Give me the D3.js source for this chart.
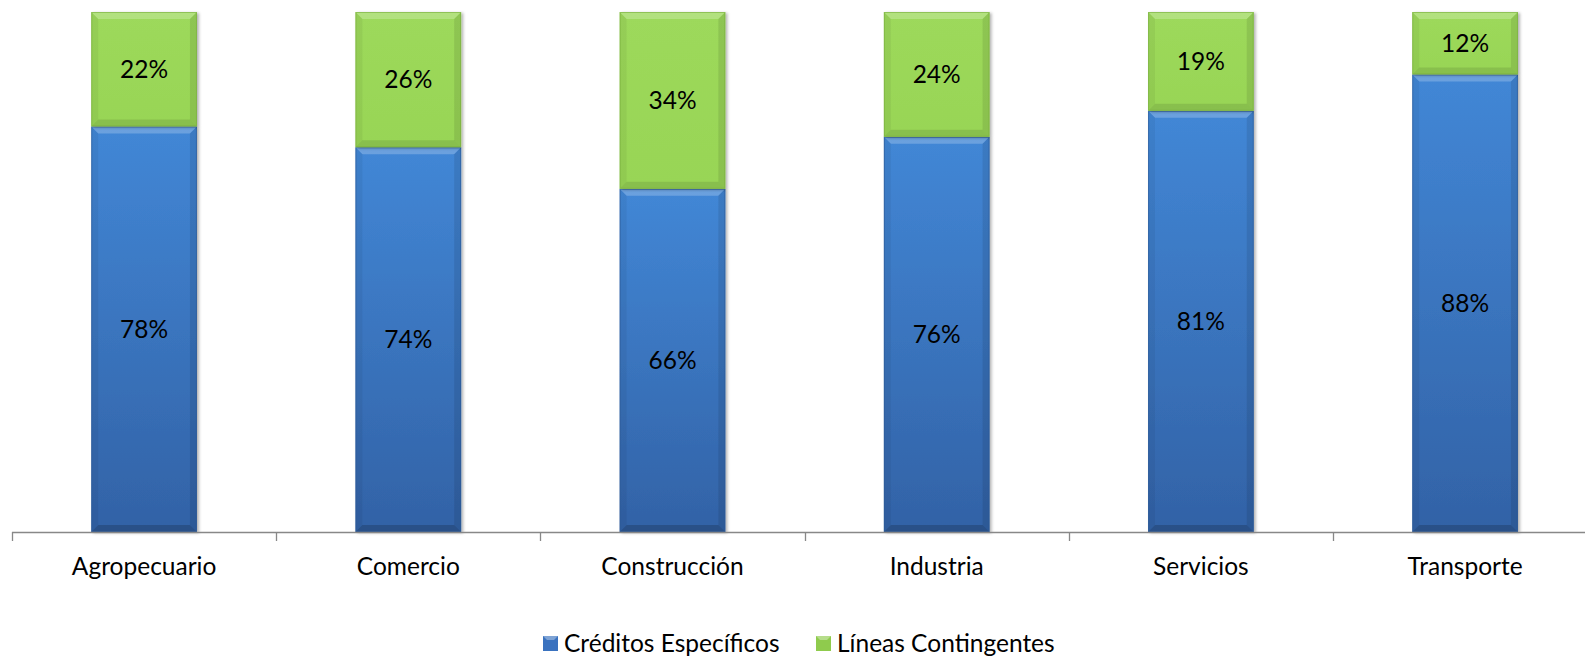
<!DOCTYPE html>
<html>
<head>
<meta charset="utf-8">
<script src="https://cdn.jsdelivr.net/npm/d3@7"></script>
<style>
  body { margin: 0; background: #fff; }
  text { font-family: Lato, "Liberation Sans", sans-serif; }
</style>
</head>
<body>
<div id="chart"></div>
<script>
// data
var categories = ["Agropecuario", "Comercio", "Construcción", "Industria", "Servicios", "Transporte"];
var creditos   = [78, 74, 66, 76, 81, 88];
var lineas     = [22, 26, 34, 24, 19, 12];
var seriesNames = ["Créditos Específicos", "Líneas Contingentes"];

var chart_width  = 1585;
var chart_height = 657;

var svg = d3.select("#chart")
    .append("svg")
    .attr("width", chart_width)
    .attr("height", chart_height);

var defs = svg.append("defs");

// gradients for the bevelled look
var gBlue = defs.append("linearGradient").attr("id", "gBlue")
    .attr("x1", 0).attr("y1", 0).attr("x2", 0).attr("y2", 1);
gBlue.append("stop").attr("offset", "0%").attr("stop-color", "#4287d6");
gBlue.append("stop").attr("offset", "100%").attr("stop-color", "#3262a6");

var gGreen = defs.append("linearGradient").attr("id", "gGreen")
    .attr("x1", 0).attr("y1", 0).attr("x2", 0).attr("y2", 1);
gGreen.append("stop").attr("offset", "0%").attr("stop-color", "#9dd95b");
gGreen.append("stop").attr("offset", "100%").attr("stop-color", "#98d556");

var shadow = defs.append("filter").attr("id", "shadow")
    .attr("x", "-10%").attr("y", "-10%").attr("width", "130%").attr("height", "130%");
shadow.append("feDropShadow").attr("dx", 2).attr("dy", 1).attr("stdDeviation", 1.5)
    .attr("flood-color", "#000").attr("flood-opacity", 0.3);

var x = d3.scaleBand()
    .domain(categories)
    .range([12, 12 + 264.2 * 6])
    .paddingInner(0.6)
    .paddingOuter(0.3);

var xTicks = d3.scaleBand().domain(categories).range([12, 12 + 264.2 * 6]);

var y = d3.scaleLinear().domain([0, 100]).range([532, 12]);

var stackData = categories.map(function(c, i) {
  return { cat: c, Creditos: creditos[i], Lineas: lineas[i] };
});
var stack = d3.stack().keys(["Creditos", "Lineas"]);
var layers = stack(stackData);

var fills = ["url(#gBlue)", "url(#gGreen)"];
var legendFills = ["#3a72bf", "#8fcb4d"];
var bottomShade = [0.18, 0.1];

var b = 7; // bevel width

layers.forEach(function(layer, li) {
  var g = svg.append("g");
  var seg = g.selectAll("g.seg")
    .data(layer)
    .enter()
    .append("g")
    .attr("class", "seg");

  seg.each(function(d) {
    var gx = x(d.data.cat), gw = x.bandwidth();
    var gy = y(d[1]), gh = y(d[0]) - y(d[1]);
    var s = d3.select(this);
    s.append("rect")
      .attr("x", gx).attr("y", gy).attr("width", gw).attr("height", gh)
      .attr("fill", fills[li])
      .attr("filter", "url(#shadow)");
    // top bevel (light)
    s.append("polygon")
      .attr("points", [[gx, gy], [gx + gw, gy], [gx + gw - b, gy + b], [gx + b, gy + b]].join(" "))
      .attr("fill", "#fff").attr("opacity", 0.22);
    // left bevel
    s.append("polygon")
      .attr("points", [[gx, gy], [gx + b, gy + b], [gx + b, gy + gh - b], [gx, gy + gh]].join(" "))
      .attr("fill", "#000").attr("opacity", 0.05);
    // right bevel
    s.append("polygon")
      .attr("points", [[gx + gw, gy], [gx + gw - b, gy + b], [gx + gw - b, gy + gh - b], [gx + gw, gy + gh]].join(" "))
      .attr("fill", "#000").attr("opacity", 0.09);
    // bottom bevel (dark)
    s.append("polygon")
      .attr("points", [[gx, gy + gh], [gx + b, gy + gh - b], [gx + gw - b, gy + gh - b], [gx + gw, gy + gh]].join(" "))
      .attr("fill", "#000").attr("opacity", bottomShade[li]);
    s.append("rect")
      .attr("x", gx + 0.5).attr("y", gy + 0.5).attr("width", gw - 1).attr("height", gh - 1)
      .attr("fill", "none")
      .attr("stroke", li === 0 ? "#2d5a96" : "#78ad3c")
      .attr("stroke-opacity", 0.6);
    s.append("text")
      .attr("x", gx + gw / 2)
      .attr("y", gy + gh / 2)
      .attr("dy", "0.35em")
      .attr("text-anchor", "middle")
      .attr("font-size", 24.5)
      .attr("fill", "#000")
      .text(Math.round(d[1] - d[0]) + "%");
  });
});

// x axis
var axis = svg.append("g");
axis.append("line")
  .attr("x1", 12).attr("x2", chart_width)
  .attr("y1", 532.5).attr("y2", 532.5)
  .attr("stroke", "#888").attr("stroke-width", 1.3);
axis.selectAll("line.tick")
  .data(categories)
  .enter()
  .append("line")
  .attr("class", "tick")
  .attr("x1", function(d) { return Math.round(xTicks(d)) + 0.5; })
  .attr("x2", function(d) { return Math.round(xTicks(d)) + 0.5; })
  .attr("y1", 532).attr("y2", 541)
  .attr("stroke", "#888").attr("stroke-width", 1.3);
axis.selectAll("text")
  .data(categories)
  .enter()
  .append("text")
  .attr("x", function(d) { return x(d) + x.bandwidth() / 2; })
  .attr("y", 575)
  .attr("text-anchor", "middle")
  .attr("font-size", 24.5)
  .attr("fill", "#000")
  .text(function(d) { return d; });

// legend
var legend = svg.append("g");
var legendX = [543, 816];
seriesNames.forEach(function(name, i) {
  legend.append("rect")
    .attr("x", legendX[i]).attr("y", 636)
    .attr("width", 15).attr("height", 15)
    .attr("fill", legendFills[i]);
  legend.append("polygon")
    .attr("points", [[legendX[i], 636], [legendX[i] + 15, 636], [legendX[i] + 11, 640], [legendX[i] + 4, 640]].join(" "))
    .attr("fill", "#fff").attr("opacity", 0.35);
  legend.append("text")
    .attr("x", legendX[i] + 21)
    .attr("y", 652)
    .attr("font-size", 24.5)
    .attr("fill", "#000")
    .text(name);
});
</script>
</body>
</html>
